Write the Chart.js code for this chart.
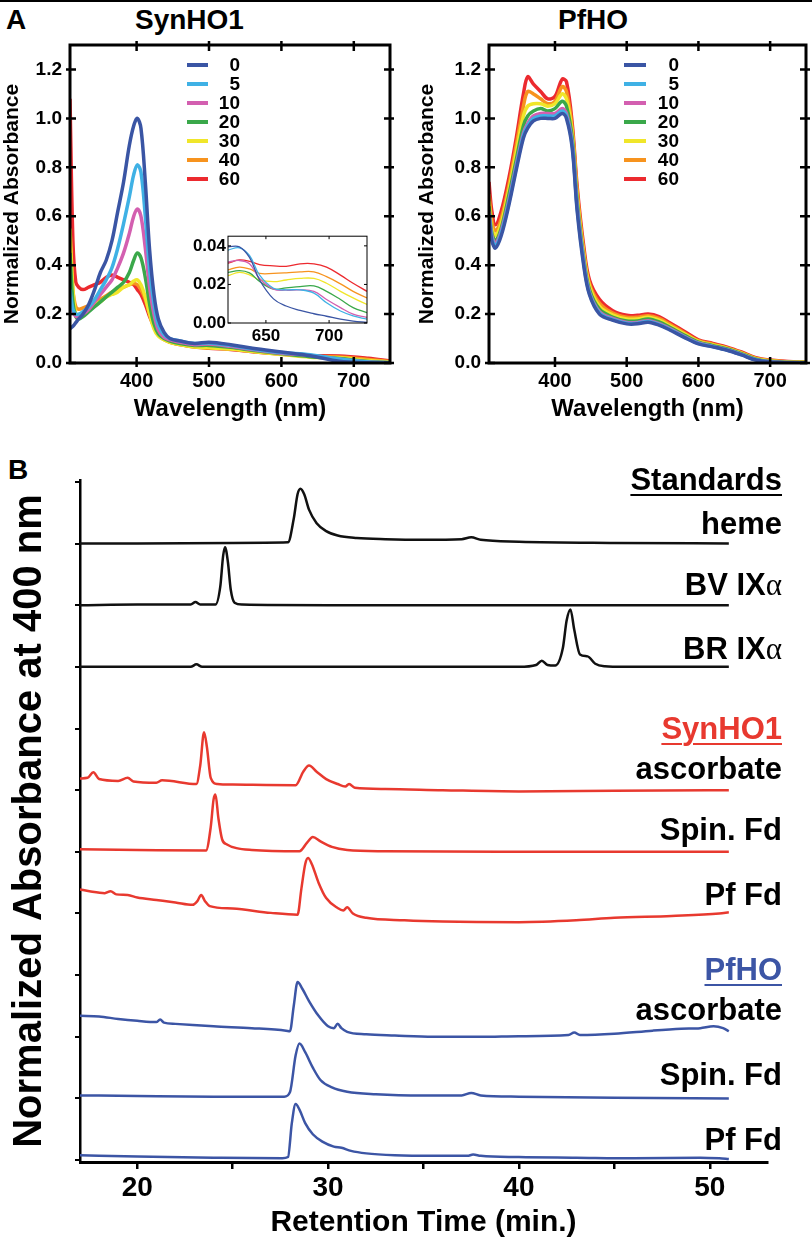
<!DOCTYPE html>
<html>
<head>
<meta charset="utf-8">
<script src="https://cdn.jsdelivr.net/npm/chart.js@4.4.1/dist/chart.umd.min.js"></script>
<style>
  body { margin:0; background:#fff; }
  #page { position:relative; width:812px; height:1247px; border-top:2px solid #000; box-sizing:border-box; font-family:"Liberation Sans", Arial, sans-serif; font-weight:bold; color:#000; }
  canvas { position:absolute; }
  .t { position:absolute; white-space:nowrap; line-height:1; }
  .lab { position:absolute; right:30px; font-size:31px; line-height:32px; text-align:right; white-space:nowrap; }
  .u { text-decoration:underline; text-decoration-thickness:2px; text-underline-offset:4px; }
  .al { font-family:"Liberation Serif", serif; font-weight:normal; }
</style>
</head>
<body>
<div id="page">
  <div class="t" style="left:6px;top:4px;font-size:28px;">A</div>
  <div class="t" style="left:135px;top:4px;font-size:28px;">SynHO1</div>
  <div class="t" style="left:558px;top:4px;font-size:28px;">PfHO</div>
  <canvas id="synho" width="406" height="430" style="left:0;top:0;"></canvas>
  <canvas id="inset" width="195" height="125" style="left:180px;top:222px;"></canvas>
  <canvas id="pfho" width="406" height="430" style="left:406px;top:0;"></canvas>

  <div class="t" style="left:8px;top:454px;font-size:28px;">B</div>
  <canvas id="hplc" width="812" height="807" style="left:0;top:440px;"></canvas>
  <div class="lab u" style="top:462px;">Standards</div>
  <div class="lab" style="top:506px;">heme</div>
  <div class="lab" style="top:567px;">BV IX<span class="al">α</span></div>
  <div class="lab" style="top:631px;">BR IX<span class="al">α</span></div>
  <div class="lab u" style="top:711px;color:#e8392f;">SynHO1</div>
  <div class="lab" style="top:751px;">ascorbate</div>
  <div class="lab" style="top:812px;">Spin. Fd</div>
  <div class="lab" style="top:877px;">Pf Fd</div>
  <div class="lab u" style="top:952px;color:#3c55a5;">PfHO</div>
  <div class="lab" style="top:992px;">ascorbate</div>
  <div class="lab" style="top:1057px;">Spin. Fd</div>
  <div class="lab" style="top:1122px;">Pf Fd</div>
</div>

<script>
//--------------------------------------------------
// DATA
//--------------------------------------------------
const minutes = ["0", "5", "10", "20", "30", "40", "60"];
const specColors = ["#3a55a4", "#3fb1e5", "#d35fb0", "#3aa84a", "#f0e62a", "#f7931e", "#ec2a2f"];

// SynHO1 spectra
const synWl = [308, 312, 316, 320, 326, 334, 342, 350, 358, 366, 374, 382, 390, 396, 401, 406, 412, 418, 424, 430, 438, 446, 460, 480, 500, 530, 560, 600, 640, 680, 720, 750];
const syn0  = [0.14, 0.15, 0.165, 0.18, 0.20, 0.24, 0.30, 0.37, 0.42, 0.50, 0.62, 0.74, 0.89, 0.97, 1.00, 0.96, 0.74, 0.46, 0.28, 0.18, 0.125, 0.10, 0.09, 0.08, 0.085, 0.075, 0.06, 0.045, 0.03, 0.007, 0.001, 0.0];
const syn5  = [0.30, 0.22, 0.20, 0.20, 0.21, 0.23, 0.26, 0.30, 0.34, 0.39, 0.47, 0.57, 0.68, 0.77, 0.81, 0.78, 0.60, 0.38, 0.24, 0.155, 0.115, 0.10, 0.09, 0.08, 0.082, 0.072, 0.058, 0.043, 0.034, 0.016, 0.004, 0.001];
const syn10 = [0.28, 0.21, 0.19, 0.19, 0.20, 0.22, 0.25, 0.28, 0.31, 0.34, 0.39, 0.45, 0.53, 0.60, 0.63, 0.60, 0.47, 0.31, 0.20, 0.135, 0.105, 0.095, 0.085, 0.075, 0.078, 0.068, 0.055, 0.04, 0.031, 0.016, 0.004, 0.001];
const syn20 = [0.45, 0.25, 0.19, 0.18, 0.19, 0.21, 0.23, 0.25, 0.27, 0.29, 0.31, 0.33, 0.37, 0.42, 0.45, 0.43, 0.35, 0.24, 0.16, 0.12, 0.10, 0.09, 0.08, 0.072, 0.072, 0.064, 0.052, 0.038, 0.026, 0.018, 0.006, 0.002];
const syn30 = [0.55, 0.30, 0.20, 0.19, 0.20, 0.22, 0.24, 0.25, 0.27, 0.28, 0.29, 0.31, 0.32, 0.335, 0.34, 0.32, 0.27, 0.20, 0.14, 0.11, 0.095, 0.085, 0.075, 0.065, 0.062, 0.057, 0.047, 0.035, 0.024, 0.021, 0.01, 0.004];
const syn40 = [0.50, 0.30, 0.23, 0.22, 0.225, 0.235, 0.25, 0.26, 0.275, 0.29, 0.30, 0.31, 0.32, 0.325, 0.32, 0.30, 0.26, 0.20, 0.15, 0.115, 0.095, 0.085, 0.075, 0.066, 0.063, 0.058, 0.048, 0.037, 0.027, 0.025, 0.014, 0.006];
const syn60 = [1.08, 0.50, 0.33, 0.31, 0.30, 0.31, 0.32, 0.33, 0.35, 0.36, 0.35, 0.34, 0.33, 0.32, 0.30, 0.28, 0.24, 0.19, 0.15, 0.12, 0.10, 0.085, 0.075, 0.065, 0.06, 0.055, 0.046, 0.036, 0.03, 0.029, 0.019, 0.008];

// SynHO1 inset (620-730 nm)
const insetWl = [620, 629, 637, 645, 656, 666, 677, 688, 698, 709, 719, 730];
const ins0  = [0.0395, 0.0395, 0.034, 0.0223, 0.0125, 0.0088, 0.0065, 0.0048, 0.0035, 0.002, 0.001, 0.0003];
const ins5  = [0.0378, 0.039, 0.035, 0.0248, 0.018, 0.0172, 0.0172, 0.0155, 0.0105, 0.0062, 0.0037, 0.002];
const ins10 = [0.0316, 0.0324, 0.0307, 0.0231, 0.0176, 0.0170, 0.0172, 0.0164, 0.0122, 0.008, 0.0046, 0.0029];
const ins20 = [0.0262, 0.0272, 0.026, 0.0215, 0.0176, 0.0182, 0.0189, 0.0192, 0.0164, 0.0122, 0.008, 0.0054];
const ins30 = [0.0245, 0.0262, 0.025, 0.0223, 0.0214, 0.0223, 0.0231, 0.0231, 0.0206, 0.0164, 0.013, 0.0096];
const ins40 = [0.0275, 0.029, 0.028, 0.0257, 0.0257, 0.026, 0.0265, 0.0265, 0.024, 0.0203, 0.0164, 0.013];
const ins60 = [0.031, 0.0327, 0.032, 0.0303, 0.0296, 0.0294, 0.0307, 0.0307, 0.029, 0.0248, 0.0206, 0.0164];

// PfHO spectra
const pfWl = [308, 312, 317, 325, 336, 346, 356, 362, 370, 380, 390, 400, 410, 416, 424, 431, 440, 448, 462, 480, 500, 515, 530, 545, 560, 580, 600, 620, 640, 660, 680, 700, 725, 750];
const pf0  = [0.60, 0.50, 0.47, 0.52, 0.65, 0.79, 0.92, 0.96, 0.99, 1.00, 1.00, 1.00, 1.02, 1.00, 0.88, 0.62, 0.40, 0.28, 0.20, 0.175, 0.16, 0.16, 0.167, 0.155, 0.135, 0.105, 0.078, 0.066, 0.052, 0.033, 0.012, 0.004, 0.001, 0.0];
const pf5  = [0.61, 0.51, 0.48, 0.53, 0.66, 0.80, 0.93, 0.97, 1.00, 1.01, 1.01, 1.01, 1.03, 1.01, 0.89, 0.63, 0.41, 0.285, 0.205, 0.178, 0.163, 0.163, 0.17, 0.158, 0.138, 0.107, 0.08, 0.067, 0.053, 0.034, 0.013, 0.004, 0.001, 0.0];
const pf10 = [0.62, 0.52, 0.49, 0.54, 0.67, 0.81, 0.94, 0.98, 1.01, 1.02, 1.02, 1.02, 1.04, 1.02, 0.90, 0.64, 0.42, 0.29, 0.21, 0.182, 0.166, 0.166, 0.173, 0.161, 0.141, 0.109, 0.082, 0.068, 0.054, 0.035, 0.014, 0.005, 0.002, 0.001];
const pf20 = [0.64, 0.53, 0.50, 0.55, 0.69, 0.83, 0.97, 1.01, 1.03, 1.04, 1.03, 1.04, 1.07, 1.05, 0.92, 0.66, 0.43, 0.30, 0.22, 0.188, 0.172, 0.172, 0.18, 0.168, 0.146, 0.114, 0.085, 0.071, 0.057, 0.038, 0.016, 0.007, 0.003, 0.002];
const pf30 = [0.66, 0.55, 0.52, 0.57, 0.71, 0.86, 1.01, 1.05, 1.06, 1.06, 1.05, 1.06, 1.10, 1.08, 0.94, 0.68, 0.45, 0.315, 0.232, 0.197, 0.18, 0.18, 0.187, 0.175, 0.152, 0.119, 0.088, 0.074, 0.06, 0.04, 0.018, 0.009, 0.004, 0.003];
const pf40 = [0.69, 0.58, 0.54, 0.59, 0.73, 0.89, 1.05, 1.11, 1.10, 1.08, 1.06, 1.07, 1.13, 1.11, 0.96, 0.70, 0.46, 0.325, 0.245, 0.205, 0.187, 0.187, 0.193, 0.182, 0.158, 0.124, 0.091, 0.077, 0.062, 0.042, 0.02, 0.01, 0.005, 0.003];
const pf60 = [0.74, 0.62, 0.565, 0.62, 0.76, 0.92, 1.10, 1.17, 1.14, 1.11, 1.08, 1.09, 1.16, 1.15, 0.98, 0.72, 0.48, 0.34, 0.26, 0.215, 0.195, 0.195, 0.20, 0.19, 0.165, 0.13, 0.095, 0.08, 0.065, 0.045, 0.022, 0.012, 0.006, 0.004];

const wlTicks = [400, 500, 600, 700];
const absTicks = [0, 0.2, 0.4, 0.6, 0.8, 1.0, 1.2];
const insetXTicks = [650, 700];
const insetYTicks = [0, 0.02, 0.04];

// HPLC traces (stacked, one unit per trace offset)
const heme_t = [17, 20, 25, 27.9, 28.2, 28.4, 28.55, 28.75, 29.0, 29.4, 29.9, 30.5, 31.5, 33, 35, 37.0, 37.5, 38.0, 40, 45, 51];
const heme_y = [10.0, 10.0, 10.01, 10.02, 10.4, 10.8, 10.89, 10.8, 10.55, 10.33, 10.2, 10.13, 10.09, 10.07, 10.06, 10.07, 10.1, 10.06, 10.03, 10.01, 10.0];
const bv_t = [17, 20, 22.8, 23.05, 23.3, 24.1, 24.35, 24.5, 24.6, 24.75, 24.9, 25.1, 25.5, 30, 40, 51];
const bv_y = [9.0, 9.01, 9.01, 9.05, 9.01, 9.01, 9.3, 9.8, 9.94, 9.7, 9.25, 9.04, 9.01, 9.0, 9.0, 9.0];
const br_t = [17, 22.8, 23.1, 23.4, 30, 40, 40.9, 41.2, 41.5, 41.9, 42.3, 42.5, 42.7, 42.9, 43.2, 43.6, 44.0, 44.5, 45.5, 51];
const br_y = [8.0, 8.0, 8.04, 8.0, 8.0, 8.0, 8.03, 8.1, 8.03, 8.02, 8.3, 8.75, 8.93, 8.6, 8.2, 8.17, 8.05, 8.01, 8.0, 8.0];

const synAsc_t = [17, 17.4, 17.7, 18.0, 19, 19.5, 19.8, 21, 21.3, 23.1, 23.3, 23.5, 23.65, 23.85, 24.2, 25, 28.3, 28.7, 29.0, 29.4, 29.9, 30.5, 30.9, 31.1, 31.4, 33, 36, 40, 45, 51];
const synAsc_y = [6.19, 6.2, 6.29, 6.18, 6.15, 6.2, 6.14, 6.12, 6.16, 6.1, 6.4, 6.94, 6.7, 6.2, 6.1, 6.09, 6.08, 6.3, 6.4, 6.3, 6.18, 6.1, 6.06, 6.1, 6.04, 6.02, 6.0, 5.98, 5.99, 6.0];
const synSpin_t = [17, 20, 23.6, 23.85, 24.0, 24.1, 24.25, 24.45, 24.7, 25.2, 26, 28.5, 28.9, 29.2, 29.6, 30.2, 31, 33, 40, 51];
const synSpin_y = [5.04, 5.03, 5.02, 5.4, 5.85, 5.93, 5.55, 5.2, 5.12, 5.06, 5.03, 5.01, 5.15, 5.24, 5.17, 5.08, 5.03, 5.01, 5.0, 5.0];
const synPf_t = [17, 17.5, 18.3, 18.6, 18.9, 19.5, 20, 21, 22, 22.9, 23.15, 23.35, 23.55, 23.8, 25, 27, 28.4, 28.6, 28.8, 28.95, 29.15, 29.5, 29.9, 30.5, 30.8, 31.0, 31.3, 32, 34, 36, 40, 43, 45, 48, 50.5, 51];
const synPf_y = [4.39, 4.36, 4.33, 4.36, 4.31, 4.3, 4.26, 4.22, 4.18, 4.14, 4.2, 4.3, 4.2, 4.12, 4.08, 4.01, 3.98, 4.4, 4.8, 4.9, 4.8, 4.5, 4.25, 4.09, 4.05, 4.1, 4.0, 3.93, 3.89, 3.87, 3.86, 3.89, 3.93, 3.96, 4.0, 4.02];

const pfAsc_t = [17, 18, 19, 20, 21.0, 21.2, 21.4, 22, 24, 26, 27.8, 28.0, 28.2, 28.4, 28.65, 29.0, 29.5, 30.0, 30.3, 30.5, 30.7, 31.0, 32, 33.5, 35.5, 38, 40, 42.6, 42.9, 43.2, 45, 47, 48.5, 49.5, 50.2, 50.7, 51];
const pfAsc_y = [2.34, 2.33, 2.29, 2.26, 2.24, 2.28, 2.23, 2.21, 2.17, 2.14, 2.1, 2.09, 2.5, 2.89, 2.78, 2.58, 2.34, 2.17, 2.14, 2.21, 2.14, 2.08, 2.04, 2.02, 2.0, 2.0, 2.01, 2.03, 2.07, 2.03, 2.05, 2.1, 2.13, 2.14, 2.17, 2.14, 2.09];
const pfSpin_t = [17, 20, 24, 27.7, 28.0, 28.3, 28.5, 28.8, 29.2, 29.6, 30.2, 31, 32.5, 35, 37.0, 37.5, 38.0, 40, 45, 51];
const pfSpin_y = [1.05, 1.04, 1.03, 1.03, 1.1, 1.7, 1.89, 1.75, 1.5, 1.3, 1.18, 1.11, 1.07, 1.05, 1.05, 1.09, 1.05, 1.03, 1.01, 1.0];
const pfPf_t = [17, 20, 24, 27.6, 27.9, 28.1, 28.3, 28.5, 28.8, 29.2, 29.7, 30.3, 30.7, 31.2, 32, 33.5, 35.5, 37.3, 37.6, 38, 40, 43, 46, 49.5, 50.5, 51];
const pfPf_y = [0.08, 0.06, 0.04, 0.03, 0.05, 0.6, 0.91, 0.82, 0.6, 0.42, 0.3, 0.22, 0.2, 0.15, 0.11, 0.08, 0.07, 0.07, 0.09, 0.07, 0.05, 0.04, 0.03, 0.04, 0.03, 0.02];

const timeTicks = [20, 25, 30, 35, 40, 45, 50];
const traceTicks = [0, 1, 2, 3, 4, 5, 6, 7, 8, 9, 10, 11];

//--------------------------------------------------
// HELPERS
//--------------------------------------------------
const FONT = "'Liberation Sans', Arial, sans-serif";
Chart.defaults.font.family = FONT;
Chart.defaults.color = "#000";

function pts(xs, ys){ return xs.map((x, i) => ({x:x, y:ys[i]})); }

function setTicks(list){ return s => { s.ticks = list.map(v => ({value:v})); }; }

// box around the plot with ticks on all four sides
const framePlugin = {
  id: "frame",
  afterDatasetsDraw(chart, args, o){
    if(!o || !o.on) return;
    const {ctx, chartArea:a, scales} = chart;
    ctx.save();
    ctx.strokeStyle = "#000";
    ctx.lineWidth = o.width;
    ctx.strokeRect(a.left, a.top, a.right - a.left, a.bottom - a.top);
    ctx.lineWidth = o.tickWidth;
    ctx.beginPath();
    scales.x.ticks.forEach(t => {
      const p = scales.x.getPixelForValue(t.value);
      ctx.moveTo(p, a.bottom + o.out); ctx.lineTo(p, a.bottom - o.in);
      ctx.moveTo(p, a.top - o.out); ctx.lineTo(p, a.top + o.in);
    });
    scales.y.ticks.forEach(t => {
      const p = scales.y.getPixelForValue(t.value);
      ctx.moveTo(a.left - o.out, p); ctx.lineTo(a.left + o.in, p);
      ctx.moveTo(a.right + o.out, p); ctx.lineTo(a.right - o.in, p);
    });
    ctx.stroke();
    ctx.restore();
  }
};

// legend drawn inside the plot
const tlegendPlugin = {
  id: "tlegend",
  afterDraw(chart, args, o){
    if(!o || !o.on) return;
    const ctx = chart.ctx;
    ctx.save();
    chart.data.datasets.forEach((ds, i) => {
      const y = o.y + i * o.dy;
      ctx.strokeStyle = ds.borderColor;
      ctx.lineWidth = 4;
      ctx.beginPath(); ctx.moveTo(o.x1, y); ctx.lineTo(o.x2, y); ctx.stroke();
      ctx.fillStyle = "#000";
      ctx.font = "bold 19px " + FONT;
      ctx.textAlign = "right";
      ctx.textBaseline = "middle";
      ctx.fillText(ds.label, o.tx, y + 1);
    });
    ctx.restore();
  }
};

function spectrumChart(id, wl, series, yPad, legend, rightPad, yTitlePad){
  return new Chart(document.getElementById(id), {
    type: "line",
    data: {
      datasets: series.map((s, i) => ({
        label: minutes[i], data: pts(wl, s), borderColor: specColors[i],
        borderWidth: 3.5, pointRadius: 0, tension: 0.35, fill: false
      }))
    },
    options: {
      responsive: false, animation: false, devicePixelRatio: 1,
      layout: { padding: { top: 43, right: rightPad, left: 0, bottom: 0 } },
      plugins: { legend: { display: false }, tooltip: { enabled: false },
        frame: { on: true, width: 3, tickWidth: 2.5, out: 4, in: 6 },
        tlegend: legend },
      scales: {
        x: { type: "linear", min: 308, max: 750,
          afterBuildTicks: setTicks(wlTicks),
          afterFit: s => { s.height = 69; },
          grid: { display: false, drawTicks: false }, border: { display: false },
          ticks: { font: { size: 20, weight: "bold" }, padding: 6, maxRotation: 0, callback: v => String(v) },
          title: { display: true, text: "Wavelength (nm)", font: { size: 24, weight: "bold" }, padding: { top: 0, bottom: 8 } } },
        y: { min: 0, max: 1.3,
          afterBuildTicks: setTicks(absTicks),
          afterFit: s => { s.width = yPad; },
          grid: { display: false, drawTicks: false }, border: { display: false },
          ticks: { font: { size: 19, weight: "bold" }, padding: 8, callback: v => v.toFixed(1) },
          title: { display: true, text: "Normalized Absorbance", font: { size: 21, weight: "bold" }, padding: { top: yTitlePad, bottom: 0 } } }
      }
    },
    plugins: [framePlugin, tlegendPlugin]
  });
}

//--------------------------------------------------
// PANEL A
//--------------------------------------------------
spectrumChart("synho", synWl, [syn0, syn5, syn10, syn20, syn30, syn40, syn60], 70,
  { on: true, x1: 187, x2: 208, tx: 240, y: 63, dy: 19 }, 16, 0);

spectrumChart("pfho", pfWl, [pf0, pf5, pf10, pf20, pf30, pf40, pf60], 83,
  { on: true, x1: 218, x2: 240, tx: 273, y: 63, dy: 19 }, 6, 9);

new Chart(document.getElementById("inset"), {
  type: "line",
  data: {
    datasets: [ins0, ins5, ins10, ins20, ins30, ins40, ins60].map((s, i) => ({
      label: minutes[i], data: pts(insetWl, s), borderColor: specColors[i],
      borderWidth: 1.3, pointRadius: 0, tension: 0.4, fill: false
    }))
  },
  options: {
    responsive: false, animation: false, devicePixelRatio: 1,
    layout: { padding: { top: 7, right: 8, left: 0, bottom: 0 } },
    plugins: { legend: { display: false }, tooltip: { enabled: false },
      frame: { on: true, width: 1, tickWidth: 1, out: 0, in: 3 } },
    scales: {
      x: { type: "linear", min: 620, max: 730,
        afterBuildTicks: setTicks(insetXTicks),
        afterFit: s => { s.height = 26; },
        grid: { display: false, drawTicks: false }, border: { display: false },
        ticks: { font: { size: 17, weight: "bold" }, padding: 3, maxRotation: 0, callback: v => String(v) } },
      y: { min: 0, max: 0.045,
        afterBuildTicks: setTicks(insetYTicks),
        afterFit: s => { s.width = 48; },
        grid: { display: false, drawTicks: false }, border: { display: false },
        ticks: { font: { size: 17, weight: "bold" }, padding: 2, callback: v => v.toFixed(2) } }
    }
  },
  plugins: [framePlugin]
});

//--------------------------------------------------
// PANEL B
//--------------------------------------------------
const BLACK = "#111", RED = "#e8392f", BLUE = "#3c55a5";
const traces = [
  [heme_t, heme_y, BLACK], [bv_t, bv_y, BLACK], [br_t, br_y, BLACK],
  [synAsc_t, synAsc_y, RED], [synSpin_t, synSpin_y, RED], [synPf_t, synPf_y, RED],
  [pfAsc_t, pfAsc_y, BLUE], [pfSpin_t, pfSpin_y, BLUE], [pfPf_t, pfPf_y, BLUE]
];

new Chart(document.getElementById("hplc"), {
  type: "line",
  data: {
    datasets: traces.map(tr => ({
      data: pts(tr[0], tr[1]), borderColor: tr[2], borderWidth: 2.5,
      pointRadius: 0, tension: 0.25, cubicInterpolationMode: "monotone", fill: false
    }))
  },
  options: {
    responsive: false, animation: false, devicePixelRatio: 1,
    layout: { padding: { top: 38, right: 45, left: 0, bottom: 0 } },
    plugins: { legend: { display: false }, tooltip: { enabled: false } },
    scales: {
      x: { type: "linear", min: 17, max: 53,
        afterBuildTicks: setTicks(timeTicks),
        afterFit: s => { s.height = 87; },
        grid: { display: true, drawOnChartArea: false, drawTicks: true, tickLength: 7, color: "#000", lineWidth: 2.5 },
        border: { display: true, color: "#000", width: 3 },
        ticks: { font: { size: 28, weight: "bold" }, padding: 2, maxRotation: 0, autoSkip: false,
          callback: v => v % 10 === 0 ? String(v) : "" },
        title: { display: true, text: "Retention Time (min.)", font: { size: 30, weight: "bold" }, padding: { top: 0, bottom: 8 } } },
      y: { min: -0.03, max: 11.03,
        afterBuildTicks: setTicks(traceTicks),
        afterFit: s => { s.width = 80; },
        grid: { display: true, drawOnChartArea: false, drawTicks: true, tickLength: 5, color: "#000", lineWidth: 2 },
        border: { display: true, color: "#000", width: 2.5 },
        ticks: { display: false },
        title: { display: true, text: "Normalized Absorbance at 400 nm", font: { size: 40, weight: "bold", lineHeight: 1 }, padding: { top: 10, bottom: 0 } } }
    }
  }
});
</script>
</body>
</html>
